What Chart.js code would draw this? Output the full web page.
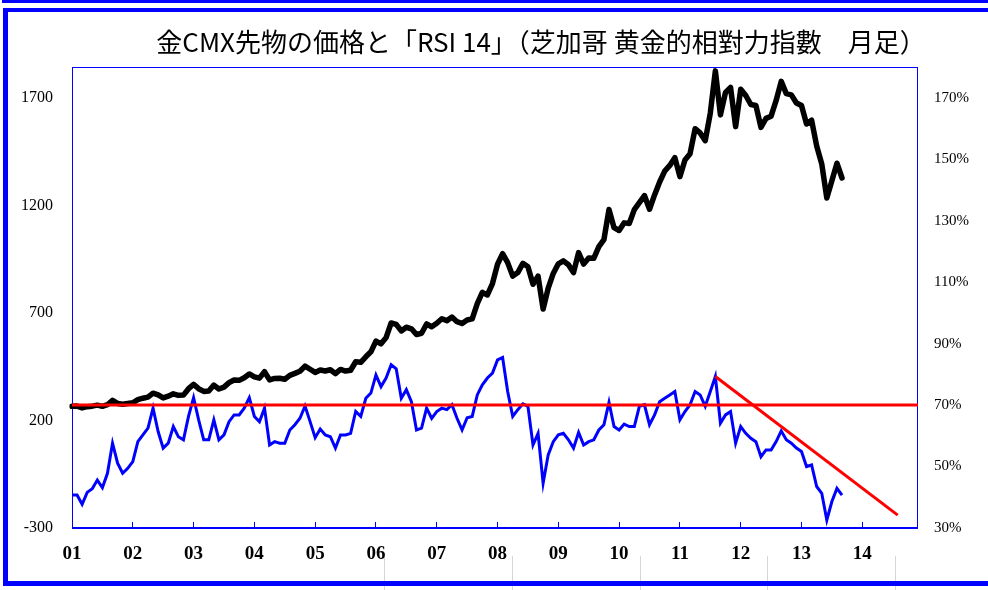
<!DOCTYPE html>
<html><head><meta charset="utf-8">
<script src="https://cdn.jsdelivr.net/npm/chart.js@4"></script>
<style>html,body{margin:0;padding:0;background:#fff;}#wrap{width:988px;height:590px;position:relative;}</style>
</head><body><div id="wrap"><canvas id="c" width="988" height="590"></canvas></div>
<script>
const titleText = '金CMX先物の価格と「RSI 14」（芝加哥 黄金的相對力指數　月足）';
const yearLabels = ['01','02','03','04','05','06','07','08','09','10','11','12','13','14'];
const monthLabels = ['01','02','03','04','05','06','07','08','09','10','11','12'];
const goldPrice = [
  265.6, 266.7, 258.4, 264.1, 266.3, 271.1, 265.6, 273.0, 293.1, 279.0, 275.5, 278.7,
  282.3, 296.9, 303.3, 308.2, 326.6, 318.5, 304.6, 312.8, 323.7, 316.9, 317.7, 347.6,
  367.5, 347.5, 334.9, 336.8, 364.5, 346.0, 354.8, 375.6, 388.0, 386.3, 398.4, 416.1,
  402.8, 396.8, 426.4, 388.5, 395.3, 395.8, 391.4, 409.3, 418.7, 428.8, 452.5, 438.0,
  423.3, 434.5, 429.9, 435.7, 417.3, 437.1, 429.6, 433.3, 472.7, 470.4, 495.9, 518.9,
  568.8, 556.0, 585.0, 653.0, 646.7, 616.0, 633.2, 626.1, 599.3, 605.2, 648.5, 635.7,
  652.0, 672.6, 663.7, 680.5, 659.1, 650.5, 666.9, 672.0, 743.0, 795.3, 783.5, 836.5,
  926.3, 975.0, 933.5, 871.0, 887.3, 930.3, 914.1, 833.0, 870.9, 717.9, 814.8, 883.3,
  928.2, 941.9, 924.0, 887.2, 980.3, 927.1, 955.6, 953.7, 1008.0, 1040.2, 1180.9, 1096.2,
  1083.0, 1118.5, 1115.5, 1180.2, 1213.0, 1245.3, 1181.7, 1248.3, 1308.3, 1359.4, 1385.3, 1421.6,
  1333.4, 1411.0, 1439.4, 1556.0, 1536.5, 1500.4, 1628.3, 1825.0, 1620.4, 1724.9, 1747.6, 1565.8,
  1739.5, 1710.5, 1668.6, 1664.2, 1562.3, 1604.2, 1614.5, 1687.6, 1776.1, 1719.1, 1713.5, 1675.8,
  1664.0, 1578.1, 1595.7, 1476.1, 1392.6, 1234.0, 1314.5, 1395.8, 1327.0
];
const rsi14 = [
  40.7, 40.7, 37.7, 41.6, 42.8, 45.6, 43.1, 47.8, 57.6, 51.1, 47.8, 49.4,
  51.6, 58.1, 60.3, 62.5, 69.0, 61.4, 56.0, 57.6, 63.0, 59.7, 58.7, 66.3,
  72.4, 65.2, 58.7, 58.7, 65.2, 58.7, 60.3, 64.6, 66.8, 66.8, 69.0, 72.4,
  66.3, 64.6, 69.0, 57.0, 58.1, 57.6, 57.6, 61.9, 63.6, 65.7, 69.7, 64.6,
  59.4, 62.2, 60.3, 59.7, 56.0, 60.3, 60.3, 60.8, 67.9, 66.3, 72.2, 73.9,
  79.8, 76.0, 78.8, 83.1, 81.8, 72.2, 75.0, 71.1, 61.9, 62.5, 69.0, 65.7,
  67.9, 69.0, 68.5, 70.1, 65.7, 61.9, 65.9, 66.3, 73.3, 76.6, 78.8, 80.4,
  84.7, 85.5, 74.4, 66.3, 68.5, 70.4, 69.6, 57.0, 60.8, 44.6, 53.8, 58.1,
  60.3, 60.8, 58.7, 56.0, 61.1, 57.0, 58.1, 58.7, 61.9, 63.6, 70.9, 63.0,
  61.9, 63.8, 63.0, 63.0, 69.6, 70.1, 63.6, 66.8, 71.1, 72.2, 73.3, 74.4,
  65.2, 67.9, 70.1, 74.4, 73.3, 69.6, 74.4, 79.3, 64.1, 66.8, 67.9, 57.6,
  63.0, 60.8, 59.2, 58.1, 53.2, 55.4, 55.4, 58.1, 61.6, 58.7, 57.6, 56.0,
  54.9, 50.0, 50.5, 43.5, 41.3, 32.6, 38.6, 42.9, 40.7
];
const leftTicks = [-300, 200, 700, 1200, 1700];
const rightTicks = [30, 50, 70, 90, 110, 130, 150, 170];
const rsiLevel = 70;
const trendStart = { month: '11-08', value: 79.3 };
const trendEnd = { month: '14-08', value: 34.2 };

const categories = [];
yearLabels.forEach(y => monthLabels.forEach(m => categories.push(y + '-' + m)));

const framePlugin = {
  id: 'frame',
  beforeDraw(chart) {
    const ctx = chart.ctx;
    ctx.save();
    ctx.fillStyle = '#fff';
    ctx.fillRect(0, 0, chart.width, chart.height);
    ctx.strokeStyle = '#d6d6d6';
    ctx.lineWidth = 1;
    [384, 512, 640, 767, 895].forEach(x => {
      ctx.beginPath(); ctx.moveTo(x + 0.5, 556); ctx.lineTo(x + 0.5, 590); ctx.stroke();
    });
    ctx.fillStyle = '#0000ff';
    ctx.fillRect(2, 0, chart.width - 2, 3);
    ctx.fillRect(3, 8, chart.width - 3, 4);
    ctx.fillRect(3, 8, 5, 578);
    ctx.fillRect(3, 581, chart.width - 3, 5);
    ctx.fillStyle = '#000';
    ctx.font = '26px "Noto Sans CJK JP"';
    ctx.textAlign = 'center';
    ctx.textBaseline = 'middle';
    ctx.fillText(titleText, 541, 42);
    ctx.restore();
  },
  beforeDatasetsDraw(chart) {
    const a = chart.chartArea, ctx = chart.ctx;
    ctx.save();
    ctx.strokeStyle = '#0000ff';
    ctx.lineWidth = 1;
    ctx.strokeRect(a.left + 0.5, a.top + 0.5, a.right - a.left - 1, a.bottom - a.top);
    ctx.lineWidth = 2;
    ctx.beginPath(); ctx.moveTo(a.left, a.bottom); ctx.lineTo(a.right, a.bottom); ctx.stroke();
    ctx.restore();
  }
};

new Chart(document.getElementById('c'), {
  type: 'line',
  data: {
    labels: categories,
    datasets: [
      { data: goldPrice, yAxisID: 'y', borderColor: '#000', borderWidth: 5.5, pointRadius: 0, tension: 0, order: 3, borderJoinStyle: 'round', borderCapStyle: 'round' },
      { data: rsi14, yAxisID: 'y1', borderColor: '#0000ff', borderWidth: 3, pointRadius: 0, tension: 0, order: 2 },
      { data: [{ x: categories[0], y: rsiLevel }, { x: categories[categories.length - 1], y: rsiLevel }], yAxisID: 'y1', borderColor: '#ff0000', borderWidth: 3, pointRadius: 0, order: 1 },
      { data: [{ x: trendStart.month, y: trendStart.value }, { x: trendEnd.month, y: trendEnd.value }], yAxisID: 'y1', borderColor: '#ff0000', borderWidth: 3, pointRadius: 0, order: 0 }
    ]
  },
  options: {
    animation: false, responsive: false, devicePixelRatio: 1,
    layout: { padding: { top: 67, left: 0, right: 0, bottom: 0 } },
    plugins: { legend: { display: false }, tooltip: { enabled: false }, title: { display: false } },
    scales: {
      x: {
        type: 'category', offset: false,
        grid: { display: true, drawOnChartArea: false, drawTicks: true, tickLength: -6, lineWidth: 1,
          color: c => (c.index % 12 === 0 && c.index > 0) ? '#0000ff' : 'rgba(0,0,0,0)' },
        border: { display: false },
        ticks: { autoSkip: false, maxRotation: 0, minRotation: 0, padding: 21, color: '#000',
          font: { family: 'Liberation Serif', size: 19, weight: 'bold' },
          callback: (v, i) => (i % 12 === 0) ? yearLabels[i / 12] : '' },
        afterFit: s => { s.height = 62; }
      },
      y: {
        position: 'left', min: -300, max: 1843,
        afterBuildTicks: s => { s.ticks = leftTicks.map(v => ({ value: v })); },
        grid: { display: false, drawTicks: false }, border: { display: false },
        ticks: { padding: 19, color: '#000', font: { family: 'Liberation Serif', size: 16 }, callback: v => String(v) },
        afterFit: s => { s.width = 72; }
      },
      y1: {
        position: 'right', min: 30, max: 180,
        afterBuildTicks: s => { s.ticks = rightTicks.map(v => ({ value: v })); },
        grid: { display: false, drawTicks: false }, border: { display: false },
        ticks: { padding: 16, color: '#000', font: { family: 'Liberation Serif', size: 15 }, callback: v => v + '%' },
        afterFit: s => { s.width = 70; }
      }
    }
  },
  plugins: [framePlugin]
});
</script></body></html>
